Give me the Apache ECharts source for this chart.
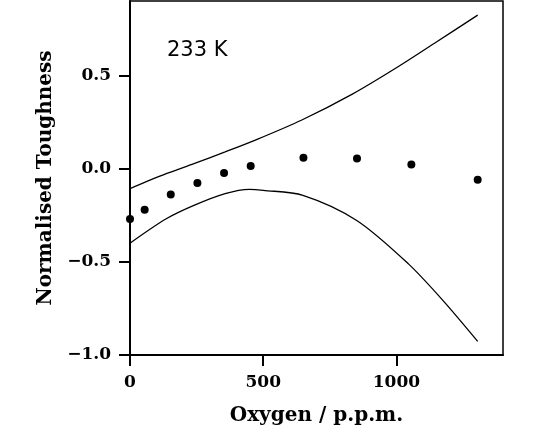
<!DOCTYPE html>
<html><head><meta charset="utf-8">
<script src="https://cdn.jsdelivr.net/npm/echarts@6/dist/echarts.min.js"></script>
<style>html,body{margin:0;padding:0;background:#fff}#c{width:543px;height:444px}</style>
</head><body><div id="c"></div>
<script>
// Oxygen (p.p.m.) and normalised toughness
const pointOxygen = [0, 55, 153, 253, 353, 453, 651, 852, 1056, 1305];
const pointTough  = [-0.27, -0.22, -0.138, -0.077, -0.023, 0.014, 0.059, 0.054, 0.023, -0.059];
const upperOxygen = [0, 136, 240, 357, 468, 643, 838, 1006, 1150, 1305];
const upperTough  = [-0.107, -0.027, 0.027, 0.09, 0.152, 0.26, 0.403, 0.547, 0.68, 0.824];
const lowerOxygen = [0, 136, 240, 357, 448, 500, 649, 851, 1045, 1175, 1305];
const lowerTough  = [-0.40, -0.269, -0.197, -0.134, -0.111, -0.116, -0.143, -0.278, -0.511, -0.708, -0.927];
const xTicks = [0, 500, 1000];
const yTicks = [-1.0, -0.5, 0.0, 0.5];
const annotation = '233 K';

const zip = (a, b) => a.map((v, i) => [v, b[i]]);
const fmt = v => (v < 0 ? '\u2212' : '') + Math.abs(v).toFixed(1);
const labelFont = {fontFamily: 'DejaVu Serif', fontWeight: 'bold', fontSize: 17, color: '#000'};
const nameFont = {fontFamily: 'DejaVu Serif', fontWeight: 'bold', fontSize: 20, color: '#000'};

const chart = echarts.init(document.getElementById('c'), null, {renderer: 'canvas'});
chart.setOption({
  animation: false,
  backgroundColor: '#fff',
  title: {text: annotation, left: 162, top: 35,
    textStyle: {fontFamily: 'DejaVu Sans', fontWeight: 'normal', fontSize: 21, color: '#000'}},
  grid: {left: 130, top: 1, right: 40, bottom: 89, show: true, borderColor: '#000', borderWidth: 1.5, backgroundColor: 'transparent'},
  xAxis: {
    type: 'value', min: 0, max: 1400,
    name: 'Oxygen / p.p.m.', nameLocation: 'middle', nameGap: 51,
    nameTextStyle: nameFont,
    axisLine: {show: true, onZero: false, lineStyle: {color: '#000', width: 2}},
    axisTick: {show: true, length: 11, customValues: xTicks, lineStyle: {color: '#000', width: 2}},
    axisLabel: {customValues: xTicks, margin: 19, ...labelFont, formatter: v => String(v)},
    splitLine: {show: false}
  },
  yAxis: {
    type: 'value', min: -1.0, max: 0.9,
    name: 'Normalised Toughness', nameLocation: 'middle', nameGap: 69, nameRotate: 90,
    nameTextStyle: nameFont,
    axisLine: {show: true, onZero: false, lineStyle: {color: '#000', width: 2}},
    axisTick: {show: true, length: 11, customValues: yTicks, lineStyle: {color: '#000', width: 2}},
    axisLabel: {customValues: yTicks, margin: 19, ...labelFont, formatter: fmt},
    splitLine: {show: false}
  },
  series: [
    {type: 'line', data: zip(upperOxygen, upperTough), smooth: 0.3, symbol: 'none',
      lineStyle: {color: '#000', width: 1.3}},
    {type: 'line', data: zip(lowerOxygen, lowerTough), smooth: 0.3, symbol: 'none',
      lineStyle: {color: '#000', width: 1.3}},
    {type: 'scatter', data: zip(pointOxygen, pointTough), symbol: 'circle', symbolSize: 8,
      itemStyle: {color: '#000', opacity: 1}}
  ]
});
</script></body></html>
